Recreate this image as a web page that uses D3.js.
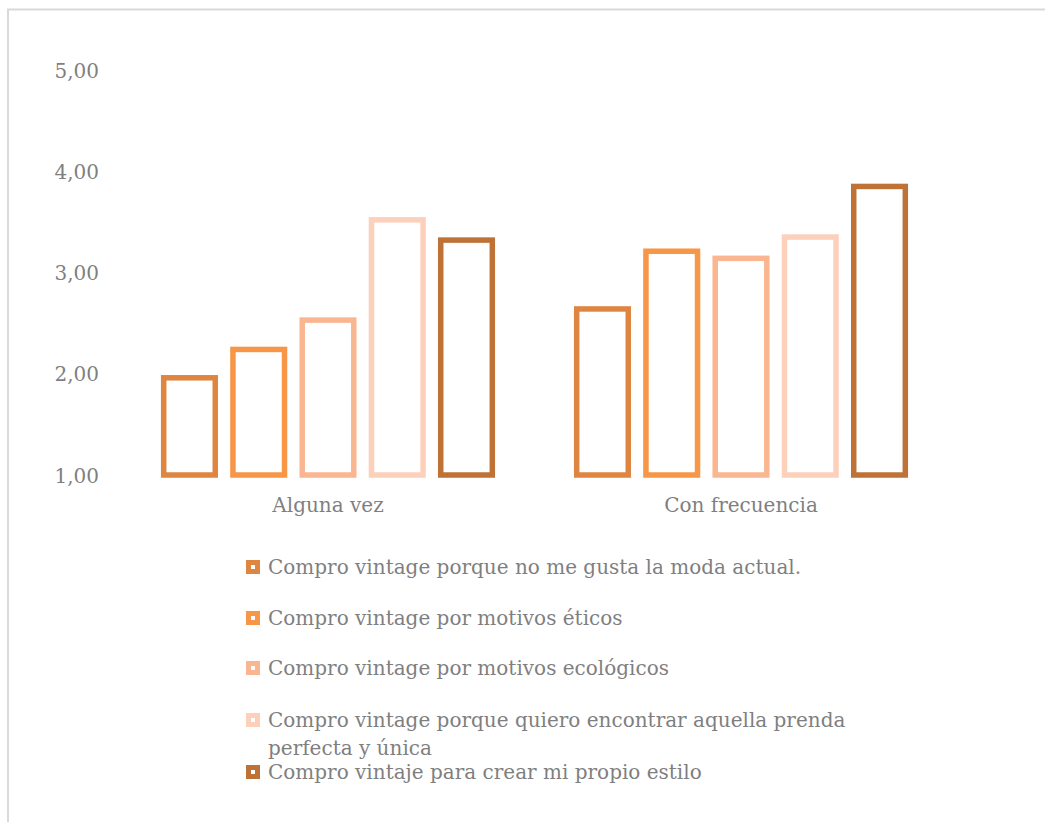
<!DOCTYPE html>
<html>
<head>
<meta charset="utf-8">
<script src="https://cdn.jsdelivr.net/npm/d3@7"></script>
<style>
  html, body { margin: 0; padding: 0; background: #fff; }
  svg { display: block; }
  text { font-family: "DejaVu Serif", "Liberation Serif", serif; fill: #7f7f7f; }
</style>
</head>
<body>
<svg id="chart" width="1045" height="822"></svg>
<script>
// Response frequency groups
const categories = ["Alguna vez", "Con frecuencia"];

// Motives (one series per motive)
const seriesNames = [
  "Compro vintage porque no me gusta la moda actual.",
  "Compro vintage por motivos éticos",
  "Compro vintage por motivos ecológicos",
  "Compro vintage porque quiero encontrar aquella prenda perfecta y única",
  "Compro vintaje para crear mi propio estilo"
];

// Mean scores per motive, in category order
const modaActual = [1.96, 2.64];
const eticos     = [2.24, 3.21];
const ecologicos = [2.53, 3.14];
const prendaUnica = [3.52, 3.35];
const estiloPropio = [3.32, 3.85];

const seriesValues = [modaActual, eticos, ecologicos, prendaUnica, estiloPropio];

const yTicks = [1, 2, 3, 4, 5];

const colors = ["#de8541", "#f79646", "#fab690", "#fcd0bb", "#be7235"];

const svg = d3.select("#chart");

// Chart frame (top and left edges visible)
svg.append("path")
  .attr("d", "M8,822 V9.5 H1045")
  .attr("fill", "none")
  .attr("stroke", "#d9d9d9")
  .attr("stroke-width", 2);

const y = d3.scaleLinear().domain([1, 5]).range([475, 70]);

const x0 = d3.scaleBand()
  .domain(categories)
  .range([121.5, 947.5])
  .paddingInner(0.191)
  .paddingOuter(0.0955);

const x1 = d3.scaleBand()
  .domain(d3.range(seriesNames.length))
  .range([0, x0.bandwidth()])
  .paddingInner(0.176)
  .paddingOuter(0);

// Y axis labels
const yAxis = d3.axisLeft(y)
  .tickValues(yTicks)
  .tickFormat(d => d3.format(".2f")(d).replace(".", ","))
  .tickSize(0)
  .tickPadding(0);

const yg = svg.append("g")
  .attr("transform", "translate(99,0)")
  .call(yAxis);
yg.select(".domain").remove();
yg.selectAll("text")
  .attr("font-size", 20)
  .attr("font-family", null)
  .attr("fill", null)
  .attr("dy", "0.35em");

// X axis labels
const xAxis = d3.axisBottom(x0).tickSize(0).tickPadding(0);
const xg = svg.append("g")
  .attr("transform", "translate(0,498)")
  .call(xAxis);
xg.select(".domain").remove();
xg.selectAll("text")
  .attr("font-size", 20)
  .attr("font-family", null)
  .attr("fill", null)
  .attr("dy", "0.71em");

// Outlined bars
const sw = 5.5;
const groups = svg.append("g").selectAll("g")
  .data(categories)
  .join("g")
  .attr("transform", d => `translate(${x0(d)},0)`);

groups.selectAll("rect")
  .data((c, ci) => seriesValues.map((vals, si) => ({ si, v: vals[ci] })))
  .join("rect")
  .attr("x", d => x1(d.si) + sw / 2)
  .attr("width", x1.bandwidth() - sw)
  .attr("y", d => y(d.v))
  .attr("height", d => y(1) - y(d.v))
  .attr("fill", "#fff")
  .attr("stroke", d => colors[d.si])
  .attr("stroke-width", sw);

// Legend
const legendRows = [
  { lines: [seriesNames[0]], cy: 567 },
  { lines: [seriesNames[1]], cy: 618 },
  { lines: [seriesNames[2]], cy: 668 },
  { lines: ["Compro vintage porque quiero encontrar aquella prenda", "perfecta y única"], cy: 720 },
  { lines: [seriesNames[4]], cy: 772 }
];

const lg = svg.append("g").selectAll("g")
  .data(legendRows)
  .join("g")
  .attr("transform", d => `translate(246,${d.cy})`);

lg.append("rect")
  .attr("x", 2.5).attr("y", -4.5)
  .attr("width", 9).attr("height", 9)
  .attr("fill", "#fff")
  .attr("stroke", (d, i) => colors[i])
  .attr("stroke-width", 5);

lg.each(function(d) {
  const t = d3.select(this).append("text")
    .attr("x", 22)
    .attr("font-size", 20);
  d.lines.forEach((line, k) => {
    t.append("tspan")
      .attr("x", 22)
      .attr("y", k * 28)
      .attr("dy", "0.35em")
      .text(line);
  });
});
</script>
</body>
</html>
